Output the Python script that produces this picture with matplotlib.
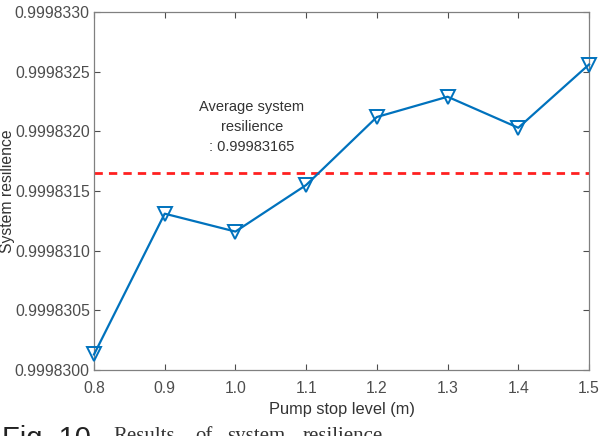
import matplotlib
matplotlib.use("Agg")
import matplotlib.pyplot as plt
import numpy as np

pump_stop_level = [0.8, 0.9, 1.0, 1.1, 1.2, 1.3, 1.4, 1.5]
resilience = [0.99983013, 0.99983131, 0.99983116, 0.99983155,
              0.99983212, 0.99983229, 0.99983203, 0.99983256]
average_value = 0.99983165
y_ticks = [0.99983, 0.9998305, 0.999831, 0.9998315, 0.999832, 0.9998325, 0.999833]
y_tick_labels = ["0.9998300", "0.9998305", "0.9998310", "0.9998315",
                 "0.9998320", "0.9998325", "0.9998330"]
x_ticks = [0.8, 0.9, 1.0, 1.1, 1.2, 1.3, 1.4, 1.5]
x_tick_labels = ["0.8", "0.9", "1.0", "1.1", "1.2", "1.3", "1.4", "1.5"]
caption_words = ["Results", "of", "system", "resilience"]
caption_x = [113, 195, 227, 303]

plt.rcParams['font.family'] = ['Liberation Sans', 'DejaVu Sans']

W, H = 599, 436
fig = plt.figure(figsize=(W / 100, H / 100), dpi=100)
ax = fig.add_axes([94 / W, 1 - 370 / H, 495 / W, 358 / H])

gray = '#4d4d4d'
ax.axhline(average_value, color='#ff2020', lw=2.0, ls=(0, (3, 2.2)), zorder=2)
ax.plot(pump_stop_level, resilience, color='#0072BD', lw=1.6, marker='v',
        markersize=10, markerfacecolor='none', markeredgewidth=1.4, zorder=3,
        clip_on=False)

ax.set_xlim(0.8, 1.5)
ax.set_ylim(0.99983, 0.999833)
ax.set_xticks(x_ticks)
ax.set_xticklabels(x_tick_labels)
ax.set_yticks(y_ticks)
ax.set_yticklabels(y_tick_labels)
ax.tick_params(direction='in', length=4, width=0.8, colors=gray, labelsize=11.3,
               top=True, right=True)
ax.tick_params(axis='y', pad=3)
ax.tick_params(axis='x', pad=8)
for s in ax.spines.values():
    s.set_color('#808080')
    s.set_linewidth(0.9)

ax.set_xlabel('Pump stop level (m)', fontsize=11.8, color='#333333', labelpad=4)
ax.set_ylabel('System resilience', fontsize=11.3, color='#333333')
ax.yaxis.set_label_coords((15 - 94) / 495, 0.5)

ax.text(1.0234, 0.99983204, 'Average system\nresilience\n: 0.99983165',
        ha='center', va='center', fontsize=10.5, color='#333333', linespacing=1.55)

fig.text(2 / W, -0.025, 'Fig. 10', fontsize=21, color='#222222', va='baseline', ha='left')
for word, xp in zip(caption_words, caption_x):
    fig.text(xp / W, -0.012, word, fontsize=15, color='#333333',
             va='baseline', ha='left', family=['Liberation Serif'])

fig.savefig('out.png', dpi=100)
